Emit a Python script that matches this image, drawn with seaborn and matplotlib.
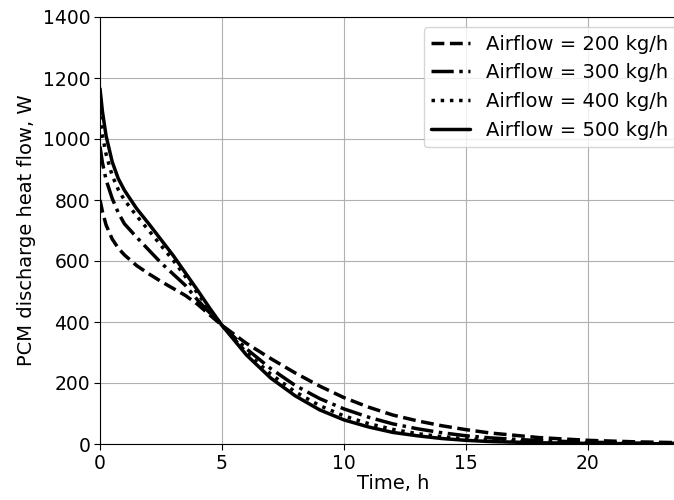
import matplotlib
matplotlib.use("Agg")
import matplotlib.pyplot as plt
import seaborn as sns
import pandas as pd

time_h = [0, 0.1, 0.25, 0.5, 0.75, 1, 1.5, 2, 2.5, 3, 3.5, 4, 4.5, 5, 6, 7, 8, 9, 10, 11, 12, 13, 14, 15, 16, 18, 20, 22, 24]

flow_200 = [800, 762, 718, 672, 642, 620, 585, 558, 533, 510, 487, 458, 423, 389, 330, 280, 233, 190, 152, 121, 95, 76, 60, 47, 36, 21, 12, 7, 4]
flow_300 = [975, 922, 866, 805, 758, 722, 678, 636, 594, 557, 520, 472, 430, 389, 312, 247, 192, 149, 115, 88, 66, 50, 37, 27, 20, 11, 6, 3, 2]
flow_400 = [1075, 1010, 950, 880, 834, 800, 748, 700, 651, 602, 549, 494, 440, 389, 300, 229, 171, 126, 92, 67, 48, 34, 24, 17, 12, 6, 3, 2, 1]
flow_500 = [1165, 1090, 1010, 925, 870, 832, 772, 722, 670, 618, 561, 504, 445, 389, 292, 216, 158, 112, 79, 56, 38, 27, 18, 12, 8, 4, 2, 1, 0.5]

labels = ["Airflow = 200 kg/h", "Airflow = 300 kg/h", "Airflow = 400 kg/h", "Airflow = 500 kg/h"]
styles = ["--", "-.", ":", "-"]
series = [flow_200, flow_300, flow_400, flow_500]

sns.set_style("white")
plt.rcParams['font.family'] = ['DejaVu Sans']
plt.rcParams['text.color'] = 'black'
plt.rcParams['axes.labelcolor'] = 'black'
plt.rcParams['xtick.color'] = 'black'
plt.rcParams['ytick.color'] = 'black'

fig = plt.figure(figsize=(6.74, 5.0), dpi=100)
# axes extend slightly past the right edge of the figure (cropped like the reference)
ax = fig.add_axes([100/674, 56/500, 585.6/674, (444-17)/500])

for lab, ls, vals in zip(labels, styles, series):
    df = pd.DataFrame({"t": time_h, "q": vals})
    sns.lineplot(data=df, x="t", y="q", ax=ax, color="black", linestyle=ls, linewidth=2.5, label=lab)

ax.set_xlim(0, 24)
ax.set_ylim(0, 1400)
ax.set_xticks([0, 5, 10, 15, 20])
ax.set_yticks(range(0, 1401, 200))
ax.grid(True, color="#b0b0b0", linewidth=0.8)
ax.tick_params(axis="both", labelsize=13.5, direction="out", length=4, width=0.8, left=True, bottom=True, pad=3)
ax.set_xlabel("Time, h", fontsize=14, labelpad=1)
ax.set_ylabel("PCM discharge heat flow, W", fontsize=14, labelpad=5)
for s in ax.spines.values():
    s.set_color("black")
    s.set_linewidth(0.8)
leg = ax.legend(loc="upper right", fontsize=14, frameon=True)
leg.get_frame().set_edgecolor("#cccccc")

fig.savefig("out.png", dpi=100)
